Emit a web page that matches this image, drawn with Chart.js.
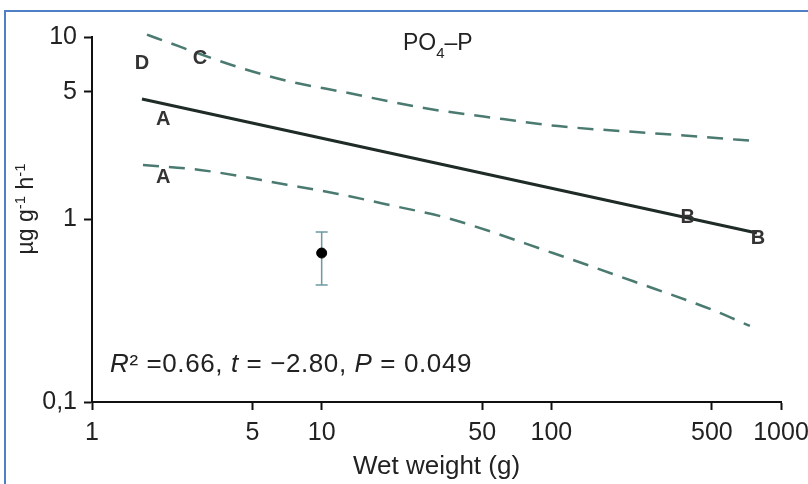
<!DOCTYPE html>
<html><head><meta charset="utf-8">
<script src="https://cdn.jsdelivr.net/npm/chart.js@4"></script>
<style>html,body{margin:0;padding:0;background:#fff;}canvas{display:block;}</style>
</head><body>
<canvas id="c" width="808" height="484"></canvas>
<script>
// ---- data ----
const xTickValues = [1, 5, 10, 50, 100, 500, 1000];
const xTickLabels = ['1', '5', '10', '50', '100', '500', '1000'];
const yTickValues = [0.1, 1, 5, 10];
const yTickLabels = ['0,1', '1', '5', '10'];

const fitX = [1.65, 785];
const fitY = [4.57, 0.843];

const upperX = [1.735, 1.90, 4.32, 7.42, 12.4, 27.9, 61.6, 107, 309, 770];
const upperY = [10.3, 9.88, 6.85, 5.67, 5.0, 4.08, 3.55, 3.25, 2.94, 2.69];

const lowerX = [1.667, 2.95, 7.06, 11.8, 20.4, 35.1, 101.6, 226, 505, 732];
const lowerY = [1.99, 1.87, 1.55, 1.38, 1.19, 1.02, 0.655, 0.460, 0.319, 0.261];

const meanX = [10];
const meanY = [0.655];
const errLow = [0.438];
const errHigh = [0.855];

const letterText = ['D', 'C', 'A', 'A', 'B', 'B'];
const letterX = [1.65, 2.95, 2.04, 2.04, 393, 793];
const letterY = [7.2, 7.67, 3.51, 1.69, 1.02, 0.79];

const titleParts = ['PO', '4', '–P'];
const statsParts = ['R', '²', ' =0.66, ', 't', ' = −2.80, ', 'P', ' = 0.049'];
const yTitleParts = ['µg g', '-1', ' h', '-1'];
const xTitle = 'Wet weight (g)';

// ---- styling ----
const FONT = '"Liberation Sans", Arial, sans-serif';
const pts = (xs, ys) => xs.map((x, i) => ({x: x, y: ys[i]}));

const decor = {
  id: 'decor',
  beforeDraw(chart) {
    const ctx = chart.ctx;
    ctx.save();
    ctx.fillStyle = '#fff';
    ctx.fillRect(0, 0, chart.width, chart.height);
    ctx.restore();
  },
  beforeDatasetsDraw(chart) {
    const ctx = chart.ctx, xs = chart.scales.x, ys = chart.scales.y;
    ctx.save();
    ctx.strokeStyle = '#6b9ba1';
    ctx.lineWidth = 1.5;
    meanX.forEach((mx, i) => {
      const px = xs.getPixelForValue(mx);
      const top = ys.getPixelForValue(errHigh[i]);
      const bot = ys.getPixelForValue(errLow[i]);
      ctx.beginPath();
      ctx.moveTo(px, top); ctx.lineTo(px, bot);
      ctx.moveTo(px - 6, top); ctx.lineTo(px + 6, top);
      ctx.moveTo(px - 6, bot); ctx.lineTo(px + 6, bot);
      ctx.stroke();
    });
    ctx.restore();
  },
  afterDatasetsDraw(chart) {
    const ctx = chart.ctx, xs = chart.scales.x, ys = chart.scales.y;
    ctx.save();
    ctx.font = 'bold 20px ' + FONT;
    ctx.fillStyle = '#333';
    ctx.textAlign = 'center';
    ctx.textBaseline = 'middle';
    letterText.forEach((t, i) => {
      ctx.fillText(t, xs.getPixelForValue(letterX[i]), ys.getPixelForValue(letterY[i]));
    });
    ctx.restore();
  },
  afterDraw(chart) {
    const ctx = chart.ctx;
    ctx.save();
    ctx.fillStyle = '#222';
    ctx.textBaseline = 'alphabetic';
    ctx.textAlign = 'left';
    // title PO4-P
    let x = 403;
    ctx.font = '23px ' + FONT;
    ctx.fillText(titleParts[0], x, 50); x += ctx.measureText(titleParts[0]).width;
    ctx.font = '15px ' + FONT;
    ctx.fillText(titleParts[1], x, 58); x += ctx.measureText(titleParts[1]).width;
    ctx.font = '23px ' + FONT;
    ctx.fillText(titleParts[2], x, 50);
    // stats text
    x = 110;
    if ('letterSpacing' in ctx) ctx.letterSpacing = '0.6px';
    const styles = ['italic 26px ', '26px ', '26px ', 'italic 26px ', '26px ', 'italic 26px ', '26px '];
    statsParts.forEach((p, i) => {
      ctx.font = styles[i] + FONT;
      ctx.fillText(p, x, 372);
      x += ctx.measureText(p).width;
    });
    if ('letterSpacing' in ctx) ctx.letterSpacing = '0px';
    // y title
    ctx.translate(33, 209);
    ctx.rotate(-Math.PI / 2);
    const yfonts = ['23px ', '15px ', '23px ', '15px '];
    const yoff = [0, -8, 0, -8];
    let tot = 0;
    yTitleParts.forEach((p, i) => { ctx.font = yfonts[i] + FONT; tot += ctx.measureText(p).width; });
    x = -tot / 2;
    yTitleParts.forEach((p, i) => {
      ctx.font = yfonts[i] + FONT;
      ctx.fillText(p, x, yoff[i]);
      x += ctx.measureText(p).width;
    });
    ctx.restore();
    // frame
    ctx.save();
    ctx.fillStyle = '#4f7fc6';
    ctx.fillRect(4, 10, 2, 474);
    ctx.fillRect(4, 10, 804, 2);
    ctx.restore();
  }
};

new Chart(document.getElementById('c'), {
  type: 'scatter',
  data: {
    datasets: [
      {data: pts(upperX, upperY), showLine: true, borderColor: '#4a7a70', borderWidth: 2.5,
       borderDash: [16, 10], pointRadius: 0, cubicInterpolationMode: 'monotone', clip: false},
      {data: pts(lowerX, lowerY), showLine: true, borderColor: '#4a7a70', borderWidth: 2.5,
       borderDash: [16, 10], pointRadius: 0, cubicInterpolationMode: 'monotone', clip: false},
      {data: pts(fitX, fitY), showLine: true, borderColor: '#1f2b26', borderWidth: 3, pointRadius: 0, clip: false},
      {data: pts(meanX, meanY), showLine: false, pointRadius: 5, pointBackgroundColor: '#000', pointBorderColor: '#000'}
    ]
  },
  options: {
    responsive: false,
    animation: false,
    devicePixelRatio: 1,
    layout: {padding: {left: 0, right: 27, top: 37, bottom: 0}},
    plugins: {legend: {display: false}, tooltip: {enabled: false}},
    scales: {
      x: {
        type: 'logarithmic', min: 1, max: 1000, position: 'bottom',
        afterBuildTicks: s => { s.ticks = xTickValues.map(v => ({value: v})); },
        afterFit: s => { s.height = 82; s.paddingLeft = 0; s.paddingRight = 0; },
        ticks: {autoSkip: false, maxRotation: 0, minRotation: 0, padding: 8, color: '#222',
                font: {family: FONT, size: 25}, callback: (v, i) => xTickLabels[i]},
        grid: {drawOnChartArea: false, drawTicks: true, tickLength: 8, tickWidth: 2, tickColor: '#111'},
        border: {display: true, color: '#111', width: 2},
        title: {display: true, text: xTitle, color: '#222', font: {family: FONT, size: 26}, padding: {top: 0, bottom: 2}}
      },
      y: {
        type: 'logarithmic', min: 0.1, max: 10, position: 'left',
        afterBuildTicks: s => { s.ticks = yTickValues.map(v => ({value: v})); },
        afterFit: s => { s.width = 92; s.paddingTop = 0; s.paddingBottom = 0; },
        ticks: {autoSkip: false, padding: 7, color: '#222',
                font: {family: FONT, size: 25}, callback: (v, i) => yTickLabels[i]},
        grid: {drawOnChartArea: false, drawTicks: true, tickLength: 8, tickWidth: 2, tickColor: '#111'},
        border: {display: true, color: '#111', width: 2}
      }
    }
  },
  plugins: [decor]
});
</script>
</body></html>
